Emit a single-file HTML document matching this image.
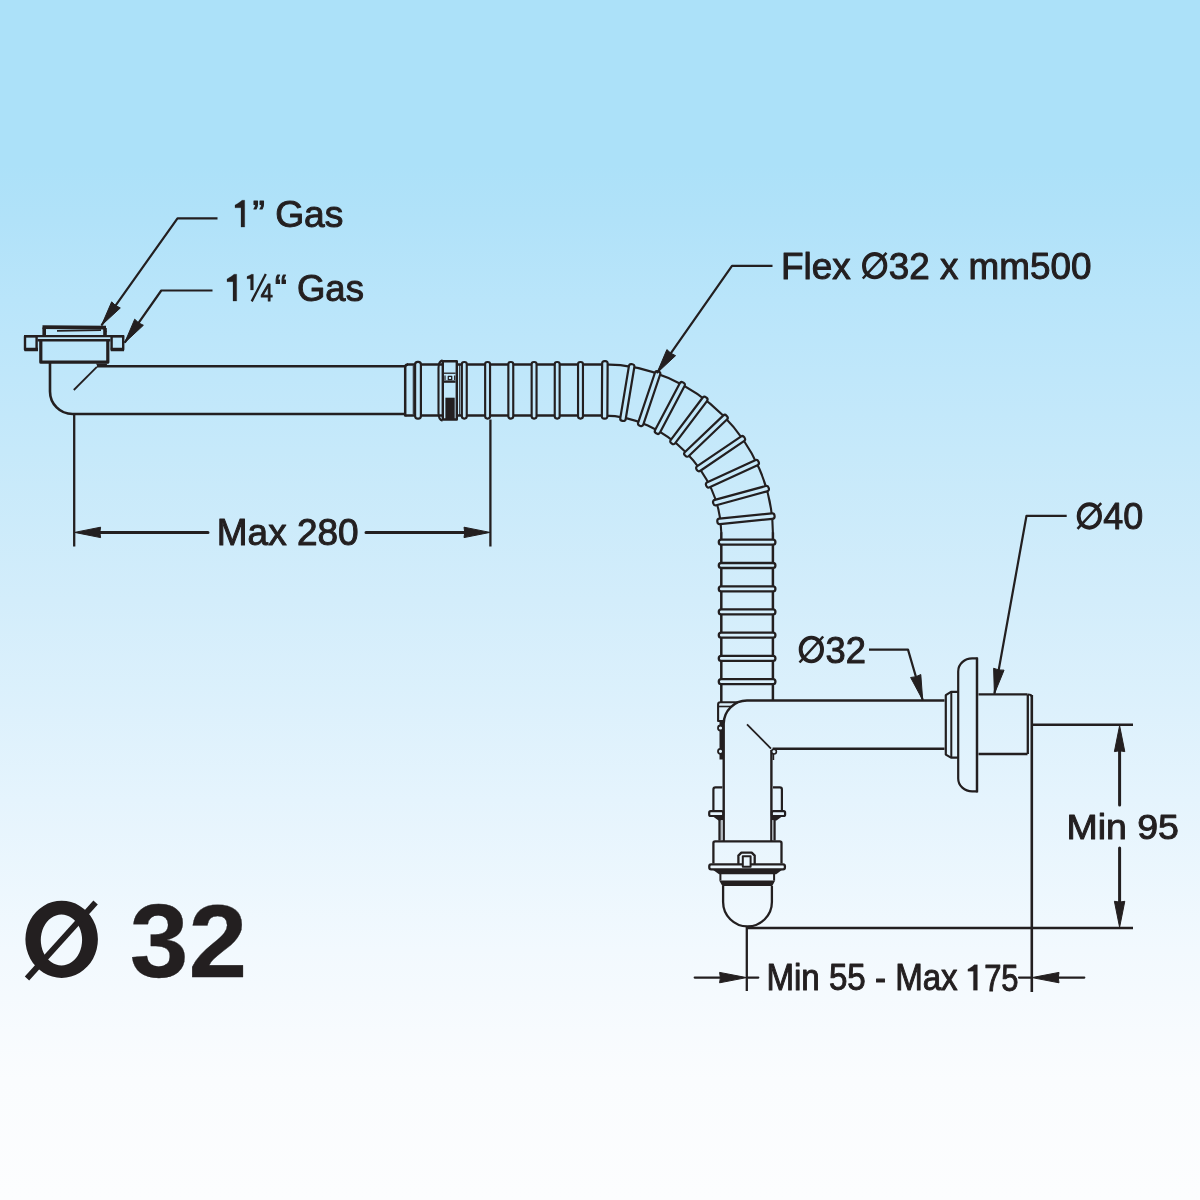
<!DOCTYPE html>
<html><head><meta charset="utf-8"><style>
html,body{margin:0;padding:0;width:1200px;height:1200px;overflow:hidden;background:#fcfdfe;font-family:"Liberation Sans",sans-serif;}
svg{display:block;will-change:transform}
</style></head><body>
<svg width="1200" height="1200" viewBox="0 0 1200 1200">
<defs>
<linearGradient id="bg" gradientUnits="userSpaceOnUse" x1="0" y1="0" x2="0" y2="1200">
<stop offset="0.0000" stop-color="rgb(172,225,249)"/>
<stop offset="0.1375" stop-color="rgb(172,225,249)"/>
<stop offset="0.1833" stop-color="rgb(177,226,249)"/>
<stop offset="0.2500" stop-color="rgb(185,229,250)"/>
<stop offset="0.3750" stop-color="rgb(198,233,250)"/>
<stop offset="0.5000" stop-color="rgb(211,237,251)"/>
<stop offset="0.6667" stop-color="rgb(229,244,253)"/>
<stop offset="0.7917" stop-color="rgb(242,249,254)"/>
<stop offset="0.9000" stop-color="rgb(250,252,254)"/>
<stop offset="1.0000" stop-color="rgb(252,253,254)"/>
</linearGradient>
</defs>
<rect width="1200" height="1200" fill="url(#bg)"/>
<g fill="none" stroke="#231f20" stroke-width="2.4" stroke-linecap="butt" stroke-linejoin="round">
<path d="M97,366.2 H405" stroke-width="2.6"/>
<path d="M96,363.5 H107.5 L106.5,365.5 H97 Z" fill="#231f20" stroke="none"/>
<path d="M50,363 V391.5 A22.5,22.5 0 0 0 72.5,414 H405" stroke-width="2.6"/>
<path d="M96.9,366.9 L73.8,390" stroke-width="1.8"/>
<path d="M40.8,341 V362.2 H107.8 V341" fill="url(#bg)" stroke-width="3.2"/>
<path d="M37.5,340.3 H110.5" stroke-width="2.6"/>
<rect x="25" y="336.4" width="11.6" height="13.2" fill="url(#bg)" stroke-width="2.4"/>
<rect x="111.6" y="336.4" width="11.6" height="13.2" fill="url(#bg)" stroke-width="2.4"/>
<path d="M24,336.1 H124.2" stroke-width="2.2"/>
<path d="M24.5,349.5 H38 M110.8,349.5 H124" stroke-width="3.4"/>
<path d="M44.2,336 V327.5 M105,328 V335" fill="url(#bg)" stroke-width="3.6"/>
<path d="M42.5,327.1 L106,327.6" stroke-width="3.6"/>
<path d="M57,330.9 L101,330.2" stroke-width="1.8"/>
<path d="M104.5,330.5 L106,331.5 L104.5,333" stroke-width="1.6"/>
<path d="M407,364.4 H604.5" stroke-width="2.5"/>
<path d="M604,364.4 C694.36,364.4 772.90,442.64 772.90,533.0" stroke-width="2.1"/>
<path d="M772.90,532.5 V700" stroke-width="2.5"/>
<path d="M405.2,415.6 H604.5" stroke-width="2.5"/>
<path d="M604.0,415.6 C664.41,415.6 721.3,472.59 721.3,533.0" stroke-width="2.1"/>
<path d="M721.3,532.5 V703" stroke-width="2.5"/>
<path d="M405.2,416.6 V367.5 Q405.2,364.4 408,364.4" stroke-width="2.5"/>
<path d="M413.3,365.5 V414.5" stroke-width="1.1"/>
<path d="M420.90,364.50 L420.90,416.10 Q420.90,418.70 418.30,418.70 L417.70,418.70 Q415.10,418.70 415.10,416.10 L415.10,364.50 Q415.10,361.90 417.70,361.90 L418.30,361.90 Q420.90,361.90 420.90,364.50 Z" fill="url(#bg)" stroke-width="2.2"/>
<path d="M466.75,364.15 L466.75,416.35 Q466.75,418.55 464.55,418.55 L464.05,418.55 Q461.85,418.55 461.85,416.35 L461.85,364.15 Q461.85,361.95 464.05,361.95 L464.55,361.95 Q466.75,361.95 466.75,364.15 Z" fill="url(#bg)" stroke-width="2.15"/>
<path d="M490.05,364.15 L490.05,416.35 Q490.05,418.55 487.85,418.55 L487.35,418.55 Q485.15,418.55 485.15,416.35 L485.15,364.15 Q485.15,361.95 487.35,361.95 L487.85,361.95 Q490.05,361.95 490.05,364.15 Z" fill="url(#bg)" stroke-width="2.15"/>
<path d="M513.25,364.15 L513.25,416.35 Q513.25,418.55 511.05,418.55 L510.55,418.55 Q508.35,418.55 508.35,416.35 L508.35,364.15 Q508.35,361.95 510.55,361.95 L511.05,361.95 Q513.25,361.95 513.25,364.15 Z" fill="url(#bg)" stroke-width="2.15"/>
<path d="M536.55,364.15 L536.55,416.35 Q536.55,418.55 534.35,418.55 L533.85,418.55 Q531.65,418.55 531.65,416.35 L531.65,364.15 Q531.65,361.95 533.85,361.95 L534.35,361.95 Q536.55,361.95 536.55,364.15 Z" fill="url(#bg)" stroke-width="2.15"/>
<path d="M559.65,364.15 L559.65,416.35 Q559.65,418.55 557.45,418.55 L556.95,418.55 Q554.75,418.55 554.75,416.35 L554.75,364.15 Q554.75,361.95 556.95,361.95 L557.45,361.95 Q559.65,361.95 559.65,364.15 Z" fill="url(#bg)" stroke-width="2.15"/>
<path d="M582.95,364.15 L582.95,416.35 Q582.95,418.55 580.75,418.55 L580.25,418.55 Q578.05,418.55 578.05,416.35 L578.05,364.15 Q578.05,361.95 580.25,361.95 L580.75,361.95 Q582.95,361.95 582.95,364.15 Z" fill="url(#bg)" stroke-width="2.15"/>
<path d="M601.86,416.26 L602.14,363.56 Q602.15,361.16 604.55,361.17 L605.25,361.18 Q607.65,361.19 607.64,363.59 L607.36,416.29 Q607.35,418.69 604.95,418.68 L604.25,418.67 Q601.85,418.66 601.86,416.26 Z" fill="url(#bg)" stroke-width="2.2"/>
<path d="M620.29,418.08 L628.92,366.09 Q629.31,363.72 631.68,364.11 L632.37,364.23 Q634.74,364.62 634.34,366.99 L625.71,418.98 Q625.32,421.35 622.95,420.95 L622.26,420.84 Q619.90,420.44 620.29,418.08 Z" fill="url(#bg)" stroke-width="2.2"/>
<path d="M638.16,422.71 L654.95,372.76 Q655.71,370.48 657.99,371.25 L658.65,371.47 Q660.92,372.24 660.16,374.51 L643.37,424.47 Q642.61,426.74 640.33,425.98 L639.67,425.75 Q637.39,424.99 638.16,422.71 Z" fill="url(#bg)" stroke-width="2.2"/>
<path d="M655.12,430.02 L679.67,383.39 Q680.79,381.27 682.92,382.39 L683.53,382.71 Q685.66,383.83 684.54,385.95 L659.99,432.58 Q658.87,434.71 656.74,433.59 L656.12,433.26 Q654.00,432.14 655.12,430.02 Z" fill="url(#bg)" stroke-width="2.2"/>
<path d="M670.84,439.83 L702.58,397.76 Q704.02,395.84 705.94,397.29 L706.50,397.71 Q708.41,399.15 706.97,401.07 L675.23,443.14 Q673.79,445.06 671.87,443.61 L671.31,443.19 Q669.39,441.74 670.84,439.83 Z" fill="url(#bg)" stroke-width="2.2"/>
<path d="M685.00,451.95 L723.14,415.58 Q724.88,413.93 726.53,415.66 L727.02,416.17 Q728.67,417.91 726.94,419.56 L688.80,455.93 Q687.06,457.59 685.40,455.85 L684.92,455.35 Q683.26,453.61 685.00,451.95 Z" fill="url(#bg)" stroke-width="2.2"/>
<path d="M697.28,466.19 L740.84,436.54 Q742.83,435.19 744.18,437.17 L744.57,437.75 Q745.92,439.73 743.94,441.08 L700.37,470.73 Q698.39,472.09 697.04,470.10 L696.64,469.52 Q695.29,467.54 697.28,466.19 Z" fill="url(#bg)" stroke-width="2.2"/>
<path d="M707.33,482.28 L755.18,460.19 Q757.36,459.19 758.37,461.37 L758.66,462.00 Q759.66,464.18 757.49,465.19 L709.64,487.27 Q707.46,488.28 706.45,486.10 L706.16,485.46 Q705.15,483.28 707.33,482.28 Z" fill="url(#bg)" stroke-width="2.2"/>
<path d="M714.83,499.90 L765.67,486.03 Q767.98,485.40 768.62,487.71 L768.80,488.39 Q769.43,490.70 767.12,491.33 L716.28,505.21 Q713.96,505.84 713.33,503.52 L713.15,502.85 Q712.51,500.53 714.83,499.90 Z" fill="url(#bg)" stroke-width="2.2"/>
<path d="M719.46,518.65 L771.89,513.39 Q774.28,513.15 774.52,515.54 L774.59,516.23 Q774.83,518.62 772.44,518.86 L720.01,524.12 Q717.62,524.36 717.38,521.98 L717.31,521.28 Q717.07,518.89 719.46,518.65 Z" fill="url(#bg)" stroke-width="2.2"/>
<path d="M721.20,539.70 L773.00,539.70 Q775.40,539.70 775.40,542.10 L775.40,542.30 Q775.40,544.70 773.00,544.70 L721.20,544.70 Q718.80,544.70 718.80,542.30 L718.80,542.10 Q718.80,539.70 721.20,539.70 Z" fill="url(#bg)" stroke-width="2.3"/>
<path d="M721.20,563.00 L773.00,563.00 Q775.40,563.00 775.40,565.40 L775.40,565.60 Q775.40,568.00 773.00,568.00 L721.20,568.00 Q718.80,568.00 718.80,565.60 L718.80,565.40 Q718.80,563.00 721.20,563.00 Z" fill="url(#bg)" stroke-width="2.3"/>
<path d="M721.20,586.30 L773.00,586.30 Q775.40,586.30 775.40,588.70 L775.40,588.90 Q775.40,591.30 773.00,591.30 L721.20,591.30 Q718.80,591.30 718.80,588.90 L718.80,588.70 Q718.80,586.30 721.20,586.30 Z" fill="url(#bg)" stroke-width="2.3"/>
<path d="M721.20,609.40 L773.00,609.40 Q775.40,609.40 775.40,611.80 L775.40,612.00 Q775.40,614.40 773.00,614.40 L721.20,614.40 Q718.80,614.40 718.80,612.00 L718.80,611.80 Q718.80,609.40 721.20,609.40 Z" fill="url(#bg)" stroke-width="2.3"/>
<path d="M721.20,632.70 L773.00,632.70 Q775.40,632.70 775.40,635.10 L775.40,635.30 Q775.40,637.70 773.00,637.70 L721.20,637.70 Q718.80,637.70 718.80,635.30 L718.80,635.10 Q718.80,632.70 721.20,632.70 Z" fill="url(#bg)" stroke-width="2.3"/>
<path d="M721.20,655.90 L773.00,655.90 Q775.40,655.90 775.40,658.30 L775.40,658.50 Q775.40,660.90 773.00,660.90 L721.20,660.90 Q718.80,660.90 718.80,658.50 L718.80,658.30 Q718.80,655.90 721.20,655.90 Z" fill="url(#bg)" stroke-width="2.3"/>
<path d="M721.20,679.10 L773.00,679.10 Q775.40,679.10 775.40,681.50 L775.40,681.70 Q775.40,684.10 773.00,684.10 L721.20,684.10 Q718.80,684.10 718.80,681.70 L718.80,681.50 Q718.80,679.10 721.20,679.10 Z" fill="url(#bg)" stroke-width="2.3"/>
<path d="M442.5,360.4 Q438.5,361.2 438.5,368 V413 Q438.5,419.8 442.5,420.6" stroke-width="2.1"/>
<rect x="442.8" y="361.2" width="14.0" height="58.3" fill="url(#bg)" stroke-width="2.4"/>
<path d="M444,373.2 H455.6" stroke-width="1.3"/>
<rect x="448.3" y="376.3" width="3.4" height="3.4" stroke-width="1.3"/>
<path d="M445,375.5 V380 M454.7,375.5 V380" stroke-width="1.2"/>
<path d="M444,381.6 H455.6" stroke-width="2.4"/>
<rect x="445.4" y="397.7" width="9.3" height="21.5" fill="#231f20" stroke="none"/>
<path d="M459.7,364.6 V415.4" stroke-width="1.0"/>
<path d="M944.5,700.5 H747 A23.3,23.3 0 0 0 723.7,723.8 V841 H771.4 V748.8 H944.5" fill="url(#bg)" stroke="none"/>
<path d="M738,702.3 H720.3 Q718.1,702.3 718.1,704.5 V721 H723.5" stroke-width="2.1"/>
<path d="M719,706.5 H731" stroke-width="1.6"/>
<rect x="719.5" y="721" width="3.8" height="38.5" fill="#231f20" stroke="none"/>
<circle cx="720.5" cy="728" r="2.5" fill="url(#bg)" stroke-width="1.8"/>
<circle cx="720.5" cy="751.3" r="2.5" fill="url(#bg)" stroke-width="1.8"/>
<path d="M944.5,700.5 H747 A23.3,23.3 0 0 0 723.7,723.8 V841" stroke-width="2.4"/>
<path d="M944.5,748.8 H772.6 M771.4,750 V841" stroke-width="2.4"/>
<path d="M747,724.4 L771,748.6" stroke-width="1.8"/>
<circle cx="774" cy="751.6" r="2.4" fill="url(#bg)" stroke-width="1.6"/>
<path d="M773.4,754 V760" stroke-width="1.6"/>
<path d="M713.4,810.5 V789.5 Q713.4,787.4 715.5,787.4 H722.5" fill="url(#bg)" stroke-width="2.2"/>
<path d="M773,787.4 H779.8 Q781.9,787.4 781.9,789.5 V810.5" fill="url(#bg)" stroke-width="2.2"/>
<rect x="709.2" y="811.2" width="14" height="4.8" rx="1.5" fill="url(#bg)" stroke-width="2.2"/>
<rect x="771.8" y="811.2" width="13.3" height="4.8" rx="1.5" fill="url(#bg)" stroke-width="2.2"/>
<path d="M713,816.5 H723.5 V820.5 H718.5 Z" fill="#231f20" stroke="none"/>
<path d="M771.5,816.5 H782 L776.5,820.5 H771.5 Z" fill="#231f20" stroke="none"/>
<rect x="720.6" y="820" width="2.2" height="20.5" fill="#b4bac0" stroke="none"/>
<path d="M719.5,820 V840.5" stroke-width="2.3"/>
<rect x="772.2" y="820" width="1.6" height="20.5" fill="#b4bac0" stroke="none"/>
<path d="M774.6,820 V840.5" stroke-width="2.2"/>
<path d="M713.4,863.5 V843 Q713.4,841.3 715.2,841.3 H779.7 Q781.5,841.3 781.5,843 V863.5" fill="url(#bg)" stroke-width="2.3"/>
<path d="M738.4,864 V855.6 L741.4,852.6 H751.7 L754.7,855.6 V864" fill="url(#bg)" stroke-width="2.3"/>
<rect x="709.3" y="864.3" width="75.6" height="5" rx="1.8" fill="url(#bg)" stroke-width="2.3"/>
<rect x="742.8" y="856.3" width="7.8" height="10.5" fill="url(#bg)" stroke-width="2.0"/>
<path d="M712.5,869.6 H782.5 L776.2,874.3 H719 Z" fill="#231f20" stroke="none"/>
<path d="M720.4,874 V880.6 M774.1,874 V880.6" stroke-width="2"/>
<path d="M719.2,880.4 H775.2 L772,886.4 H722.6 Z" fill="#231f20" stroke="none"/>
<path d="M723.1,886 V902 A24.4,24.4 0 0 0 771.9,902 V886" fill="url(#bg)" stroke-width="2.3"/>
<path d="M958,691.8 H951 L945.8,695.2 V754.6 L951,757.6 H958" fill="url(#bg)" stroke-width="2.2"/>
<path d="M951.3,692 V757.4" stroke-width="2.0"/>
<path d="M977.0,658.4 H972.3 A14,13 0 0 0 958.2,671.4 V778.4 A14,13 0 0 0 972.3,791.4 H977.0 Z" fill="url(#bg)" stroke-width="2.2"/>
<path d="M977.0,657.6 V792.4" stroke-width="2.3"/>
<path d="M978.5,694.4 H1027.5 M978.5,754 H1027.5 M1027.8,694.4 V754" stroke-width="2.3"/>
<path d="M1031.8,695 V992" stroke-width="2.6"/>
<path d="M1027.8,694.6 Q1031.8,694.6 1031.8,697" stroke-width="2"/>
<path d="M74.2,414 V546.5 M490.4,419.5 V546.5" stroke-width="2.3"/>
<path d="M95,532.4 H208 M366,532.4 H469" stroke-width="3" stroke-linecap="round"/>
<path d="M74.60,532.40 L100.60,527.20 Q99.10,532.40 100.60,537.60 Z" fill="#231f20" stroke="#231f20" stroke-width="1" stroke-linejoin="round"/>
<path d="M490.00,532.40 L464.00,537.60 Q465.50,532.40 464.00,527.20 Z" fill="#231f20" stroke="#231f20" stroke-width="1" stroke-linejoin="round"/>
<path d="M1032,724.8 H1133 M1032,928 H1133" stroke-width="2.4"/>
<path d="M1119.6,740 V805 M1119.6,848 V912" stroke-width="3" stroke-linecap="round"/>
<path d="M1119.60,725.60 L1124.80,751.60 Q1119.60,750.10 1114.40,751.60 Z" fill="#231f20" stroke="#231f20" stroke-width="1" stroke-linejoin="round"/>
<path d="M1119.60,927.30 L1114.40,901.30 Q1119.60,902.80 1124.80,901.30 Z" fill="#231f20" stroke="#231f20" stroke-width="1" stroke-linejoin="round"/>
<path d="M746.8,926 V991 " stroke-width="2.3"/>
<path d="M746,928 H1032" stroke-width="2.4"/>
<path d="M694.7,977.6 H730 M746.8,977.6 H758.3 M1019,977.6 H1031.8 M1045,977.6 H1084.3" stroke-width="2.2" stroke-linecap="round"/>
<path d="M746.60,977.60 L719.60,982.80 Q721.10,977.60 719.60,972.40 Z" fill="#231f20" stroke="#231f20" stroke-width="1" stroke-linejoin="round"/>
<path d="M1032.00,977.60 L1059.00,972.40 Q1057.50,977.60 1059.00,982.80 Z" fill="#231f20" stroke="#231f20" stroke-width="1" stroke-linejoin="round"/>
<path d="M217.5,218.3 L177.5,218.3 L101.5,325.3" stroke-width="2.2"/><path d="M101.50,325.30 L111.66,301.85 Q115.11,306.14 120.30,307.99 Z" fill="#231f20" stroke="#231f20" stroke-width="1" stroke-linejoin="round"/>
<path d="M212.5,290.5 L161.3,290.5 L124.7,342.7" stroke-width="2.2"/><path d="M124.70,342.70 L134.71,319.19 Q138.19,323.46 143.39,325.27 Z" fill="#231f20" stroke="#231f20" stroke-width="1" stroke-linejoin="round"/>
<path d="M772.5,265.8 L732,265.8 L656.9,373.1" stroke-width="2.2"/><path d="M656.90,373.10 L666.89,349.58 Q670.38,353.85 675.58,355.66 Z" fill="#231f20" stroke="#231f20" stroke-width="1" stroke-linejoin="round"/>
<path d="M1066.7,515.8 L1026.5,515.8 L994.4,693.8" stroke-width="2.2"/><path d="M994.40,693.80 L993.62,668.26 Q998.57,670.67 1004.05,670.14 Z" fill="#231f20" stroke="#231f20" stroke-width="1" stroke-linejoin="round"/>
<path d="M869,649.6 L908,649.6 L922.7,700" stroke-width="2.2"/><path d="M922.70,700.00 L910.61,677.48 Q916.12,677.44 920.79,674.52 Z" fill="#231f20" stroke="#231f20" stroke-width="1" stroke-linejoin="round"/>
</g>
<g font-family="Liberation Sans, sans-serif" fill="#231f20" stroke="#231f20" stroke-width="1.0" stroke-linejoin="round">
<text id="t0" x="252.40" y="227.10" font-size="37" textLength="91.03" lengthAdjust="spacingAndGlyphs">” Gas</text>
<text id="t1" x="274.65" y="301.10" font-size="37.5" textLength="89.30" lengthAdjust="spacingAndGlyphs">“ Gas</text>
<text id="t1f" x="260.84" y="301.10" font-size="23" stroke-width="1.0" textLength="12.03" lengthAdjust="spacingAndGlyphs">4</text>
<text id="t2a" x="780.96" y="278.75" font-size="36.6" textLength="69.83" lengthAdjust="spacingAndGlyphs">Flex</text>
<text id="t2b" x="888.70" y="278.75" font-size="36.6" textLength="202.70" lengthAdjust="spacingAndGlyphs">32 x mm500</text>
<text id="t3" x="216.77" y="545.30" font-size="37.1" textLength="141.86" lengthAdjust="spacingAndGlyphs">Max 280</text>
<text id="t4" x="1103.27" y="529.20" font-size="36.5" textLength="39.92" lengthAdjust="spacingAndGlyphs">40</text>
<text id="t5" x="825.59" y="662.70" font-size="36.3" textLength="40.37" lengthAdjust="spacingAndGlyphs">32</text>
<text id="t6" x="1066.47" y="838.80" font-size="35.7" textLength="112.50" lengthAdjust="spacingAndGlyphs">Min 95</text>
<text id="t7a" x="766.39" y="990.40" font-size="36.0" textLength="191.30" lengthAdjust="spacingAndGlyphs">Min 55 - Max</text>
<text id="t7b" x="984.16" y="990.60" font-size="36.0" textLength="34.41" lengthAdjust="spacingAndGlyphs">75</text>
<text id="t8" x="129.89" y="976.70" font-size="103.5" font-weight="bold" stroke-width="0.3" textLength="117.34" lengthAdjust="spacingAndGlyphs">32</text>
</g>
<ellipse cx="874.65" cy="265.65" rx="10.70" ry="11.70" fill="none" stroke="#231f20" stroke-width="3.9"/><path d="M862.80,278.50 L886.50,252.80" stroke="#231f20" stroke-width="2.5" stroke-linecap="butt"/>
<ellipse cx="1089.35" cy="516.00" rx="10.70" ry="11.75" fill="none" stroke="#231f20" stroke-width="3.9"/><path d="M1077.50,528.90 L1101.20,503.10" stroke="#231f20" stroke-width="2.5" stroke-linecap="butt"/>
<ellipse cx="811.35" cy="649.50" rx="10.70" ry="11.85" fill="none" stroke="#231f20" stroke-width="3.9"/><path d="M799.50,662.50 L823.20,636.50" stroke="#231f20" stroke-width="2.5" stroke-linecap="butt"/>
<path d="M244.70,227.10 V200.20 H241.90 C240.60,201.81 236.20,204.40 235.00,205.00 V207.80 H241.00 V227.10 Z" fill="#231f20" stroke="#231f20" stroke-width="0.25" stroke-linejoin="round"/>
<path d="M236.70,301.10 V274.20 H233.90 C232.60,275.81 228.20,278.30 227.00,278.90 V281.70 H233.00 V301.10 Z" fill="#231f20" stroke="#231f20" stroke-width="0.25" stroke-linejoin="round"/>
<path d="M253.40,289.90 V274.30 H251.40 C250.10,275.24 248.20,276.00 247.00,276.60 V278.80 H250.50 V289.90 Z" fill="#231f20" stroke="#231f20" stroke-width="0.25" stroke-linejoin="round"/>
<path d="M251.7,301.4 L265.8,274.0" stroke="#231f20" stroke-width="2.3"/>
<path d="M977.40,990.20 V964.80 H974.30 C973.00,966.32 969.10,968.60 967.90,969.20 V971.30 H973.40 V990.20 Z" fill="#231f20" stroke="#231f20" stroke-width="0.25" stroke-linejoin="round"/>
<path d="M61.65,900.8 A36.25,38.55 0 1 0 61.66,900.8 Z M61.45,914.6 A20.65,25.4 0 1 1 61.44,914.6 Z" fill="#231f20" fill-rule="evenodd"/>
<path d="M27.0,978.4 L95.6,902.6" stroke="#231f20" stroke-width="5.9"/>
</svg>
</body></html>
